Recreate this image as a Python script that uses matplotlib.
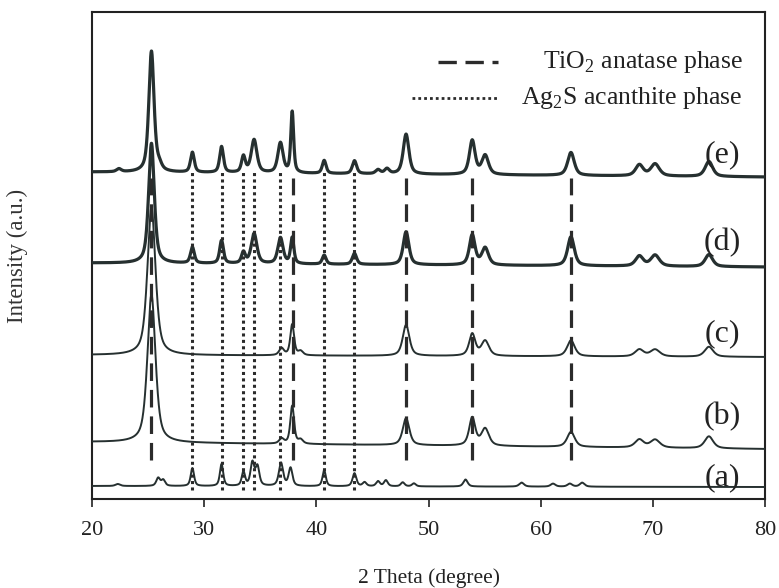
import numpy as np
import matplotlib
matplotlib.use("Agg")
import matplotlib.pyplot as plt

plt.rcParams['font.family'] = ['Liberation Serif', 'DejaVu Serif']
plt.rcParams['mathtext.fontset'] = 'custom'
plt.rcParams['mathtext.rm'] = 'Liberation Serif'

# ---------------- data ----------------
# background level at 2θ = 20 and 2θ = 80 (incl. stacking offset)
bg_a = [13, 12]
bg_b = [57, 50]
bg_c = [144, 142]
bg_d = [236, 232]
bg_e = [327, 322]

# (a) Ag2S
pos_a = [22.3, 25.9, 26.35, 28.95, 31.55, 33.5, 34.3, 34.75, 36.85, 37.7, 40.7, 43.4,
         44.3, 45.5, 46.2, 47.7, 48.7, 53.3, 58.3, 61.1, 62.6, 63.7]
h_a = [2, 8, 6, 18, 22, 14, 23, 19, 23, 18, 16, 13, 4, 5, 6, 4, 3, 7, 4, 3, 3, 4]
w_a = [0.5, 0.4, 0.4, 0.35, 0.35, 0.35, 0.4, 0.4, 0.45, 0.4, 0.35, 0.4,
       0.4, 0.4, 0.4, 0.4, 0.4, 0.45, 0.5, 0.5, 0.5, 0.5]

# (b) TiO2
pos_b = [25.3, 36.9, 37.85, 38.6, 48.0, 53.9, 55.05, 62.7, 68.8, 70.2, 75.0]
h_b = [148, 5, 38, 4, 27, 28, 17, 15, 8, 8, 12]
w_b = [0.85, 0.5, 0.4, 0.5, 0.7, 0.65, 0.8, 0.8, 0.9, 1.0, 0.9]

# (c) TiO2
pos_c = [25.3, 36.9, 37.85, 38.6, 48.0, 53.9, 55.05, 62.7, 68.8, 70.2, 75.0]
h_c = [148, 7, 31, 4, 31, 22, 15, 16, 7, 7, 10]
w_c = [0.85, 0.5, 0.4, 0.5, 0.7, 0.65, 0.8, 0.8, 0.9, 1.0, 0.9]

# (d) TiO2 / Ag2S
pos_d = [25.3, 28.95, 31.55, 33.5, 34.45, 36.8, 37.85, 40.7, 43.4, 48.0, 53.9, 55.05,
         62.7, 68.8, 70.2, 75.0]
h_d = [120, 16, 23, 11, 30, 26, 26, 9, 11, 33, 30, 17, 29, 10, 11, 12]
w_d = [0.6, 0.4, 0.4, 0.4, 0.6, 0.55, 0.35, 0.4, 0.45, 0.6, 0.6, 0.7, 0.7, 0.8, 0.9, 0.8]

# (e) TiO2 / Ag2S
pos_e = [25.3, 28.95, 31.55, 33.5, 34.45, 36.8, 37.85, 40.7, 43.4, 48.0, 53.9, 55.05,
         62.7, 68.8, 70.2, 75.0, 26.0, 45.5, 46.3, 22.4]
h_e = [121, 20, 26, 16, 33, 30, 61, 13, 13, 40, 34, 19, 23, 11, 12, 15, 5, 4, 5, 3]
w_e = [0.55, 0.4, 0.4, 0.4, 0.6, 0.55, 0.3, 0.4, 0.45, 0.6, 0.6, 0.7, 0.7, 0.8, 0.9,
       0.8, 0.5, 0.5, 0.5, 0.5]

anatase_lines = [25.3, 37.9, 48.0, 53.9, 62.7]
acanthite_lines = [28.95, 31.55, 33.5, 34.45, 36.8, 40.7, 43.4]

sample_labels = ['(a)', '(b)', '(c)', '(d)', '(e)']
label_y = [21, 82, 165, 256, 344]

xticks = [20, 30, 40, 50, 60, 70, 80]


# ---------------- build profiles ----------------
tt = np.linspace(20, 80, 4001)


def pattern(bg, pos, h, w):
    y = bg[0] + (bg[1] - bg[0]) * (tt - 20) / 60.0
    for p, hh, ww in zip(pos, h, w):
        u = (tt - p) / (ww / 2.0)
        y = y + hh * (0.6 / (1 + u ** 2) + 0.4 * np.exp(-np.log(2) * u ** 2))
    return y


traces = [
    (pattern(bg_a, pos_a, h_a, w_a), 1.4),
    (pattern(bg_b, pos_b, h_b, w_b), 1.4),
    (pattern(bg_c, pos_c, h_c, w_c), 1.4),
    (pattern(bg_d, pos_d, h_d, w_d), 2.3),
    (pattern(bg_e, pos_e, h_e, w_e), 2.3),
]

# ---------------- figure ----------------
W, H = 779, 588
fig = plt.figure(figsize=(W / 100, H / 100), dpi=100)
L, R, T, B = 92, 765, 12, 499
ax = fig.add_axes([L / W, 1 - B / H, (R - L) / W, (B - T) / H])
ax.set_xlim(20, 80)
ax.set_ylim(0, B - T)

col = '#263030'
for y, lw in traces:
    ax.plot(tt, y, color=col, lw=lw, zorder=3)

ax.vlines(anatase_lines, 39, 321, colors='#2b2b2b', lw=2.3,
          linestyles=(0, (5.5, 2.8)), zorder=4)
ax.vlines(acanthite_lines, 9, 329, colors='#2b2b2b', lw=2.2,
          linestyles=(0, (1, 1.1)), zorder=4)

for lab, yy in zip(sample_labels, label_y):
    ax.text(76.2, yy, lab, fontsize=23, ha='center', va='center', color='#222', zorder=5)

# legend (drawn manually to match layout)
ax.plot([0.514, 0.603], [0.897, 0.897], transform=ax.transAxes, color='#2b2b2b',
        lw=2.4, linestyle=(0, (5.5, 2.6)))
ax.plot([0.475, 0.603], [0.823, 0.823], transform=ax.transAxes, color='#2b2b2b',
        lw=2.0, linestyle=(0, (1, 1.1)))
ax.text(0.967, 0.897, r'TiO$_\mathregular{2}$ anatase phase', transform=ax.transAxes,
        fontsize=18.5, ha='right', va='center', color='#222')
ax.text(0.967, 0.823, r'Ag$_\mathregular{2}$S acanthite phase', transform=ax.transAxes,
        fontsize=18.5, ha='right', va='center', color='#222')

ax.set_xticks(xticks)
ax.set_xticklabels([str(v) for v in xticks])
ax.set_yticks([])
ax.tick_params(axis='x', direction='out', length=6, width=1.2, pad=10, labelsize=16,
               colors='#222')
for s in ax.spines.values():
    s.set_linewidth(1.5)
    s.set_color('#222')

ax.set_xlabel('2 Theta (degree)', fontsize=15.5, color='#222')
ax.xaxis.set_label_coords(0.5, -0.143)
ax.set_ylabel('Intensity (a.u.)', fontsize=16.5, color='#333')
ax.yaxis.set_label_coords(-0.095, 0.5)

fig.savefig('out.png', dpi=100)
